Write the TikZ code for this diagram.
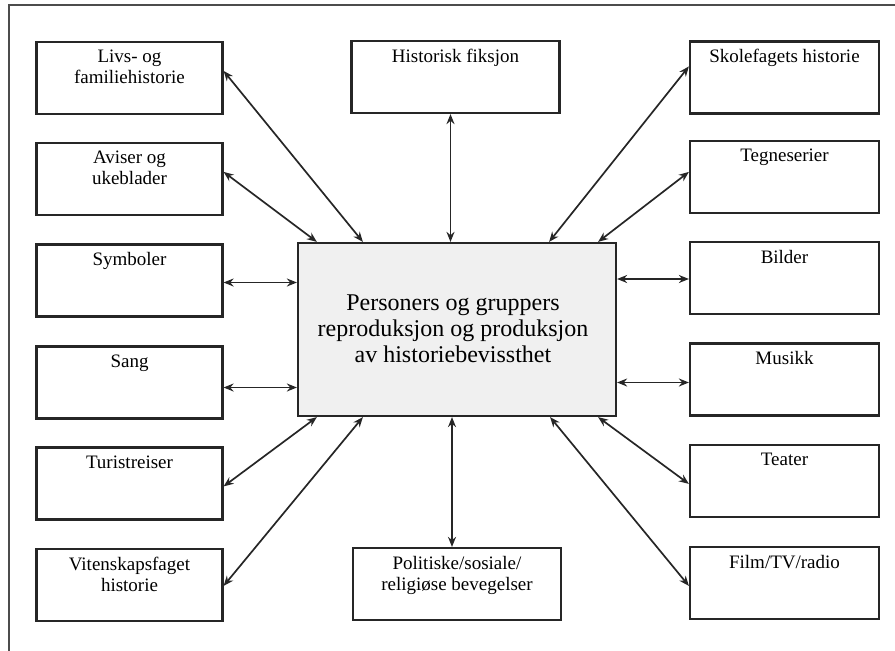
\documentclass[tikz,border=0pt]{standalone}
\usepackage{fontspec}
\setmainfont{Liberation Serif}
\usetikzlibrary{arrows.meta}
\begin{document}
\begin{tikzpicture}[x=1pt,y=-1pt,
  box/.style={draw=black!85, line width=2.2pt, rectangle, minimum height=72pt, inner sep=0pt},
  lbox/.style={box, minimum width=186pt},
  rbox/.style={box, minimum width=189pt},
  mbox/.style={box, minimum width=208pt},
  lab/.style={anchor=north, font=\fontsize{19}{21}\selectfont, align=center, inner sep=0pt, yshift=-9pt},
  link/.style={line width=1.7pt, draw=black!85, {Stealth[length=10pt,width=8pt]}-{Stealth[length=10pt,width=8pt]}},
  frame/.style={line width=2.2pt, draw=black!70}]
\useasboundingbox (0,0) rectangle (895,651);
% frame
\coordinate (fr1) at (895,5);
\coordinate (fr2) at (9,5);
\coordinate (fr3) at (9,651);
\draw[frame] (fr1) -- (fr2) -- (fr3);
% center
\node[box, minimum width=318pt, minimum height=173pt, fill=black!6] (c) at (457,329.5) {};
\node[font=\fontsize{24}{26}\selectfont, align=center, inner sep=0pt] (ct) at (453,329) {Personers og gruppers\\reproduksjon og produksjon\\av historiebevissthet};
% left
\node[lbox] (livs) at (129.5,78) {};
\node[lab] at (livs.north) {Livs- og\\familiehistorie};
\node[lbox] (avis) at (129.5,179) {};
\node[lab] at (avis.north) {Aviser og\\ukeblader};
\node[lbox] (symb) at (129.5,280.5) {};
\node[lab] at (symb.north) {Symboler};
\node[lbox] (sang) at (129.5,382.5) {};
\node[lab] at (sang.north) {Sang};
\node[lbox] (tur) at (129.5,483.5) {};
\node[lab] at (tur.north) {Turistreiser};
\node[lbox] (vit) at (129.5,585) {};
\node[lab] at (vit.north) {Vitenskapsfaget\\historie};
% middle
\node[mbox] (hist) at (455.5,77) {};
\node[lab] at (hist.north) {Historisk fiksjon};
\node[mbox] (pol) at (457,584) {};
\node[lab] at (pol.north) {Politiske/sosiale/\\religiøse bevegelser};
% right
\node[rbox] (skole) at (784.5,77.5) {};
\node[lab] at (skole.north) {Skolefagets historie};
\node[rbox] (tegn) at (784.5,177) {};
\node[lab] at (tegn.north) {Tegneserier};
\node[rbox] (bild) at (784.5,278) {};
\node[lab] at (bild.north) {Bilder};
\node[rbox] (mus) at (784.5,379.5) {};
\node[lab] at (mus.north) {Musikk};
\node[rbox] (teat) at (784.5,481) {};
\node[lab] at (teat.north) {Teater};
\node[rbox] (film) at (784.5,583) {};
\node[lab] at (film.north) {Film/TV/radio};
% links
\draw[link] ([yshift=-30pt]livs.north east) -- ([xshift=66pt]c.north west);
\draw[link] ([yshift=-30pt]avis.north east) -- ([xshift=20pt]c.north west);
\draw[link] ([yshift=-2pt]symb.east) -- ([yshift=-2pt]symb.east -| c.west);
\draw[link] ([yshift=-5pt]sang.east) -- ([yshift=-5pt]sang.east -| c.west);
\draw[link] ([yshift=-40pt]tur.north east) -- ([xshift=20pt]c.south west);
\draw[link] ([yshift=-38pt]vit.north east) -- ([xshift=66pt]c.south west);
\draw[link] ([xshift=-5pt]hist.south) -- ([xshift=-5pt]hist.south |- c.north);
\draw[link] ([xshift=-5pt]pol.north) -- ([xshift=-5pt]pol.north |- c.south);
\draw[link] ([yshift=-26pt]skole.north west) -- ([xshift=-68pt]c.north east);
\draw[link] ([yshift=-32pt]tegn.north west) -- ([xshift=-19pt]c.north east);
\draw[link] ([yshift=-1pt]bild.west) -- ([yshift=-1pt]bild.west -| c.east);
\draw[link] ([yshift=-3pt]mus.west) -- ([yshift=-3pt]mus.west -| c.east);
\draw[link] ([yshift=-40pt]teat.north west) -- ([xshift=-19pt]c.south east);
\draw[link] ([yshift=-40pt]film.north west) -- ([xshift=-67pt]c.south east);
\end{tikzpicture}
\end{document}
